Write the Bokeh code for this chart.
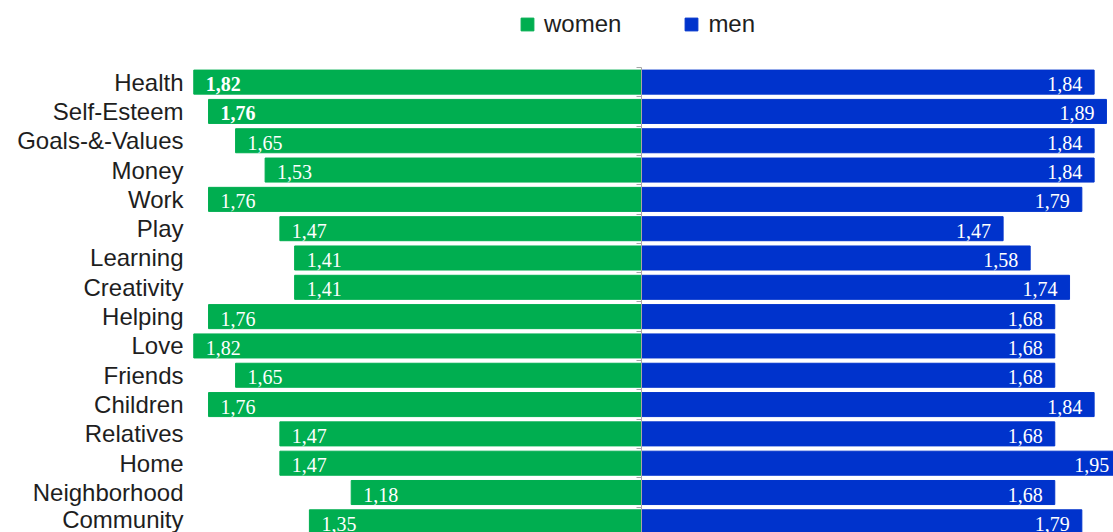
from bokeh.plotting import figure
from bokeh.models import (ColumnDataSource, Range1d, FixedTicker, LinearAxis, Legend,
                          LegendItem, CustomJSTickFormatter)
from bokeh.core.properties import value
from bokeh.embed import file_html
from bokeh.resources import INLINE

categories = ["Health", "Self-Esteem", "Goals-&-Values", "Money", "Work", "Play",
              "Learning", "Creativity", "Helping", "Love", "Friends", "Children",
              "Relatives", "Home", "Neighborhood", "Community"]
women = [1.82, 1.76, 1.65, 1.53, 1.76, 1.47, 1.41, 1.41, 1.76, 1.82, 1.65, 1.76,
         1.47, 1.47, 1.18, 1.35]
men = [1.84, 1.89, 1.84, 1.84, 1.79, 1.47, 1.58, 1.74, 1.68, 1.68, 1.68, 1.84,
       1.68, 1.95, 1.68, 1.79]
women_bold = ["Health", "Self-Esteem"]
series_names = ["women", "men"]

GREEN = "#00AE50"
BLUE = "#0033CC"
LABEL_FONT = "Liberation Sans"
NUM_FONT = "Liberation Serif"


def fmt(v):
    return f"{v:.2f}".replace(".", ",")


n = len(categories)
idx = list(range(n))
src = ColumnDataSource(dict(
    y=idx,
    women_left=[-v for v in women],
    men=men,
    wlabel=[fmt(v) for v in women],
    mlabel=[fmt(v) for v in men],
    wstyle=["bold" if c in women_bold else "normal" for c in categories],
))

p = figure(width=1113, height=532, output_backend="svg", toolbar_location=None,
           x_range=Range1d(-1.8333, 1.9187), y_range=Range1d(15.364, -2.784),
           x_axis_location=None,
           min_border_left=190, min_border_right=0, min_border_top=0, min_border_bottom=0,
           outline_line_color=None, background_fill_color="white",
           border_fill_color="white")
p.grid.visible = False

rw = p.hbar(y="y", left="women_left", right=0, height=0.82, color=GREEN, source=src)
rm = p.hbar(y="y", left=0, right="men", height=0.82, color=BLUE, source=src)

p.text(x="women_left", y="y", text="wlabel", source=src,
       text_font=value(NUM_FONT), text_font_size="20px", text_font_style="wstyle",
       text_color="white", text_align="left", text_baseline="middle",
       x_offset=12, y_offset=2)
p.text(x="men", y="y", text="mlabel", source=src,
       text_font=value(NUM_FONT), text_font_size="20px",
       text_color="white", text_align="right", text_baseline="middle",
       x_offset=-12, y_offset=2)

ax = p.yaxis[0]
ax.ticker = FixedTicker(ticks=idx)
ax.major_label_overrides = {i: c for i, c in enumerate(categories)}
ax.axis_line_color = None
ax.major_tick_line_color = None
ax.minor_tick_line_color = None
ax.major_tick_out = 0
ax.major_tick_in = 0
ax.major_label_standoff = 7
ax.major_label_text_font = LABEL_FONT
ax.major_label_text_font_size = "24px"
ax.major_label_text_color = "#1e1e1e"

cax = LinearAxis(fixed_location=0,
                 ticker=FixedTicker(ticks=[i - 0.5 for i in range(n + 1)]),
                 bounds=(-0.5, n - 0.5),
                 axis_line_color="#a6a6a6", major_tick_line_color="#a6a6a6",
                 major_tick_out=5, major_tick_in=0, minor_tick_line_color=None,
                 formatter=CustomJSTickFormatter(code="return ''"),
                 major_label_text_font_size="0px")
p.add_layout(cax, "left")

legend = Legend(items=[LegendItem(label=series_names[0], renderers=[rw]),
                       LegendItem(label=series_names[1], renderers=[rm])],
                orientation="horizontal", location=(329, 494),
                glyph_width=16, glyph_height=16, label_standoff=9, spacing=62,
                padding=0, margin=0, border_line_color=None,
                background_fill_alpha=0,
                label_text_font=LABEL_FONT, label_text_font_size="24px",
                label_text_color="#1e1e1e")
p.add_layout(legend)

open("out.html", "w").write(file_html(p, INLINE))
